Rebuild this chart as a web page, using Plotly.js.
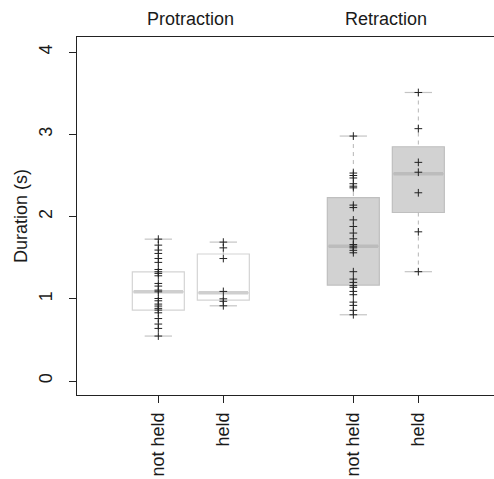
<!DOCTYPE html>
<html>
<head>
<meta charset="utf-8">
<script src="https://cdn.plot.ly/plotly-3.0.1.min.js"></script>
<style>html,body{margin:0;padding:0;background:#fff;}#chart{width:494px;height:479px;}</style>
</head>
<body>
<div id="chart"></div>
<script>
// Positions and labels
const positions = [1, 2, 4, 5];
const tickLabels = ["not held", "held", "not held", "held"];
const groupNames = ["Protraction", "Retraction"];
const groupCenters = [1.5, 4.5];

// Box statistics
const q1 = [0.863, 0.985, 1.167, 2.05];
const medians = [1.085, 1.073, 1.641, 2.52];
const q3 = [1.329, 1.545, 2.23, 2.85];
const lowerWhisker = [0.547, 0.915, 0.806, 1.33];
const upperWhisker = [1.726, 1.69, 2.98, 3.51];

// Raw observations
const protNotHeld = [1.726, 1.653, 1.593, 1.552, 1.491, 1.443, 1.357, 1.329, 1.309, 1.28, 1.187, 1.155, 1.106, 1.085, 1.004, 0.976, 0.936, 0.912, 0.884, 0.863, 0.83, 0.76, 0.693, 0.64, 0.547];
const protHeld = [1.69, 1.62, 1.49, 1.09, 1.0, 0.97, 0.915];
const retrNotHeld = [2.98, 2.53, 2.50, 2.47, 2.40, 2.37, 2.35, 2.14, 2.11, 1.96, 1.88, 1.80, 1.73, 1.66, 1.64, 1.62, 1.59, 1.56, 1.33, 1.24, 1.20, 1.16, 1.14, 1.09, 1.05, 0.96, 0.92, 0.86, 0.806];
const retrHeld = [3.51, 3.07, 2.66, 2.54, 2.29, 1.815, 1.33];
const seriesData = [protNotHeld, protHeld, retrNotHeld, retrHeld];

const fills = ["#ffffff", "#ffffff", "#d2d2d2", "#d2d2d2"];
const borders = ["#d4d4d4", "#d4d4d4", "#bfbfbf", "#bfbfbf"];
const medianColors = ["#cfcfcf", "#cfcfcf", "#bcbcbc", "#bcbcbc"];
const boxHalf = 0.4;
const capHalf = 0.21;

const traces = [];
positions.forEach((p, i) => {
  traces.push({
    type: "scatter", mode: "lines", hoverinfo: "skip", showlegend: false,
    x: [p, p, null, p, p], y: [upperWhisker[i], q3[i], null, q1[i], lowerWhisker[i]],
    line: {color: "#b5b5b5", width: 1, dash: "4px,4px"}
  });
  traces.push({
    type: "scatter", mode: "lines", hoverinfo: "skip", showlegend: false,
    x: [p - capHalf, p + capHalf, null, p - capHalf, p + capHalf],
    y: [upperWhisker[i], upperWhisker[i], null, lowerWhisker[i], lowerWhisker[i]],
    line: {color: "#c4c4c4", width: 1.2}
  });
  traces.push({
    type: "box", x: [p], q1: [q1[i]], median: [medians[i]], q3: [q3[i]],
    lowerfence: [q1[i]], upperfence: [q3[i]],
    width: boxHalf * 2, whiskerwidth: 0, fillcolor: fills[i],
    line: {color: borders[i], width: 1.2}, hoverinfo: "skip", showlegend: false
  });
  traces.push({
    type: "scatter", mode: "lines", hoverinfo: "skip", showlegend: false,
    x: [p - boxHalf + 0.02, p + boxHalf - 0.02], y: [medians[i], medians[i]],
    line: {color: medianColors[i], width: 3.5}
  });
});
positions.forEach((p, i) => {
  traces.push({
    type: "scatter", mode: "markers", hoverinfo: "skip", showlegend: false,
    x: seriesData[i].map(() => p), y: seriesData[i],
    marker: {symbol: "cross-thin-open", size: 5.5, color: "#222222", line: {color: "#222222", width: 1}}
  });
});

const font = {family: "Liberation Sans, Arial, sans-serif", size: 18, color: "#1a1a1a"};
const layout = {
  width: 494, height: 479,
  margin: {l: 77, r: 0, t: 37, b: 84},
  paper_bgcolor: "#fff", plot_bgcolor: "#fff",
  font: font,
  showlegend: false,
  xaxis: {
    range: [-0.251, 6.164], tickmode: "array", tickvals: positions, ticktext: tickLabels,
    tickangle: -90, ticks: "outside", ticklen: 7, tickcolor: "#222", tickwidth: 1,
    showline: true, linecolor: "#222", linewidth: 1.2, mirror: true,
    showgrid: false, zeroline: false, tickfont: font, ticklabelstandoff: 2
  },
  yaxis: {
    range: [-0.17, 4.185], tickvals: [0, 1, 2, 3, 4], tickangle: -90,
    ticks: "outside", ticklen: 7, tickcolor: "#222", tickwidth: 1,
    showline: true, linecolor: "#222", linewidth: 1.2, mirror: false,
    showgrid: false, zeroline: false, tickfont: font, ticklabelstandoff: 10,
    title: {text: "Duration (s)", font: font, standoff: 3}
  },
  annotations: groupNames.map((g, i) => ({
    text: g, x: groupCenters[i], xref: "x", y: 1 + (37 - 19) / (479 - 37 - 84), yref: "paper",
    yanchor: "middle", showarrow: false, font: font
  }))
};

Plotly.newPlot("chart", traces, layout, {displayModeBar: false, staticPlot: true});
</script>
</body>
</html>
